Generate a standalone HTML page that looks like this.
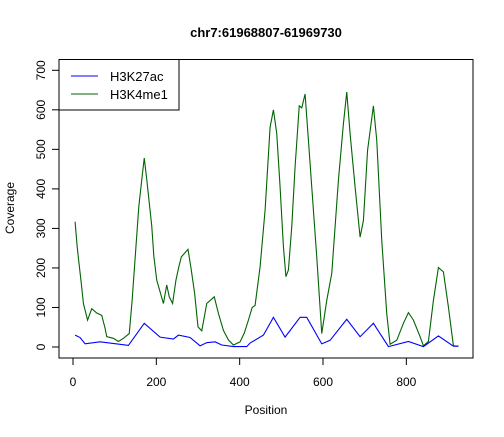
<!DOCTYPE html>
<html><head><meta charset="utf-8"><style>
html,body{margin:0;padding:0;background:#fff;}
svg text{font-family:"Liberation Sans",Arial,sans-serif;}
</style></head><body>
<svg id="chart" width="504" height="432" xmlns="http://www.w3.org/2000/svg">
<rect width="504" height="432" fill="#fff"/>
<text x="266" y="37" text-anchor="middle" font-size="13" font-weight="bold">chr7:61968807-61969730</text>
<text x="266" y="414" text-anchor="middle" font-size="12">Position</text>
<text transform="translate(14,208) rotate(-90)" text-anchor="middle" font-size="12">Coverage</text>
<g id="xaxis"></g>
<g id="yaxis"></g>
<g id="series"></g>
<rect x="59" y="59.5" width="414" height="298.5" fill="none" stroke="#000" stroke-width="1"/>
<g>
<rect x="59" y="59.5" width="120" height="50.5" fill="#fff" stroke="#000"/>
<line x1="71" y1="76" x2="98" y2="76" stroke="#0000ff"/>
<text x="110" y="81" font-size="13">H3K27ac</text>
<line x1="71" y1="94" x2="98" y2="94" stroke="#006400"/>
<text x="110" y="99" font-size="13">H3K4me1</text>
</g>
</svg>
<script>
const xTicks=[0,200,400,600,800];
const yTicks=[0,100,200,300,400,500,600,700];
const greenX=[5,10,13,20,25,35,45,57,69,77,81,97,109,121,135,142,150,158,166,171,177,189,194,201,217,225,231,239,247,254,260,276,284,292,300,309,321,339,349,361,373,385,401,411,421,430,437,449,461,473,481,489,497,505,511,517,525,533,543,549,557,565,573,585,597,609,621,637,649,657,665,677,689,697,707,721,729,741,753,761,777,793,805,817,833,841,853,865,877,889,901,913,925];
const greenY=[317,254,225,160,110,68,97,86,80,47,26,22,14,22,34,119,238,356,432,478,424,306,230,169,110,157,127,110,169,203,228,247,194,135,51,41,110,127,85,42,18,5,13,35,68,100,105,203,346,556,600,540,405,254,178,195,304,456,610,605,640,523,405,228,34,118,186,422,565,645,540,405,278,320,498,610,523,270,84,7,17,60,87,68,26,3,14,118,201,190,101,3,2];
const blueX=[5,17,29,65,133,171,209,241,253,281,305,321,341,357,385,417,425,457,481,509,545,561,597,617,657,689,721,757,805,841,877,913,925];
const blueY=[30,24,8,13,4,60,25,20,30,24,3,11,13,5,1,1,10,30,75,25,75,75,8,17,70,26,60,1,14,1,28,2,2];

const NS='http://www.w3.org/2000/svg';
const X0=59,X1=473,Y0=59.5,Y1=358;
function sx(v){return 73+v*(250/600);}
function sy(v){return 347-v*(276.7/700);}
function mk(tag,attrs,parent){const e=document.createElementNS(NS,tag);for(const k in attrs)e.setAttribute(k,attrs[k]);parent.appendChild(e);return e;}
const xa=document.getElementById('xaxis'),ya=document.getElementById('yaxis'),sg=document.getElementById('series');
xTicks.forEach(t=>{
 const l=mk('line',{x1:sx(t),x2:sx(t),y1:Y1,y2:Y1+7,stroke:'#000'},xa);
 
 
 const tx=mk('text',{x:sx(t),y:386,'text-anchor':'middle','font-size':'12'},xa);
 tx.textContent=t;
 
 
});
yTicks.forEach(t=>{
 const l=mk('line',{x1:X0-7,x2:X0,y1:sy(t),y2:sy(t),stroke:'#000'},ya);
 
 
 const tx=mk('text',{transform:`translate(45,${sy(t)}) rotate(-90)`,'text-anchor':'middle','font-size':'12'},ya);
 tx.textContent=t;
 
 
});
function line(xs,ys,color,name){
 const p=mk('polyline',{points:xs.map((x,i)=>sx(x)+','+sy(ys[i])).join(' '),fill:'none',stroke:color,'stroke-width':'1.1'},sg);
 
 
}
line(greenX,greenY,'#006400','line-h3k4me1');
line(blueX,blueY,'#0000ff','line-h3k27ac');
</script>
</body></html>
